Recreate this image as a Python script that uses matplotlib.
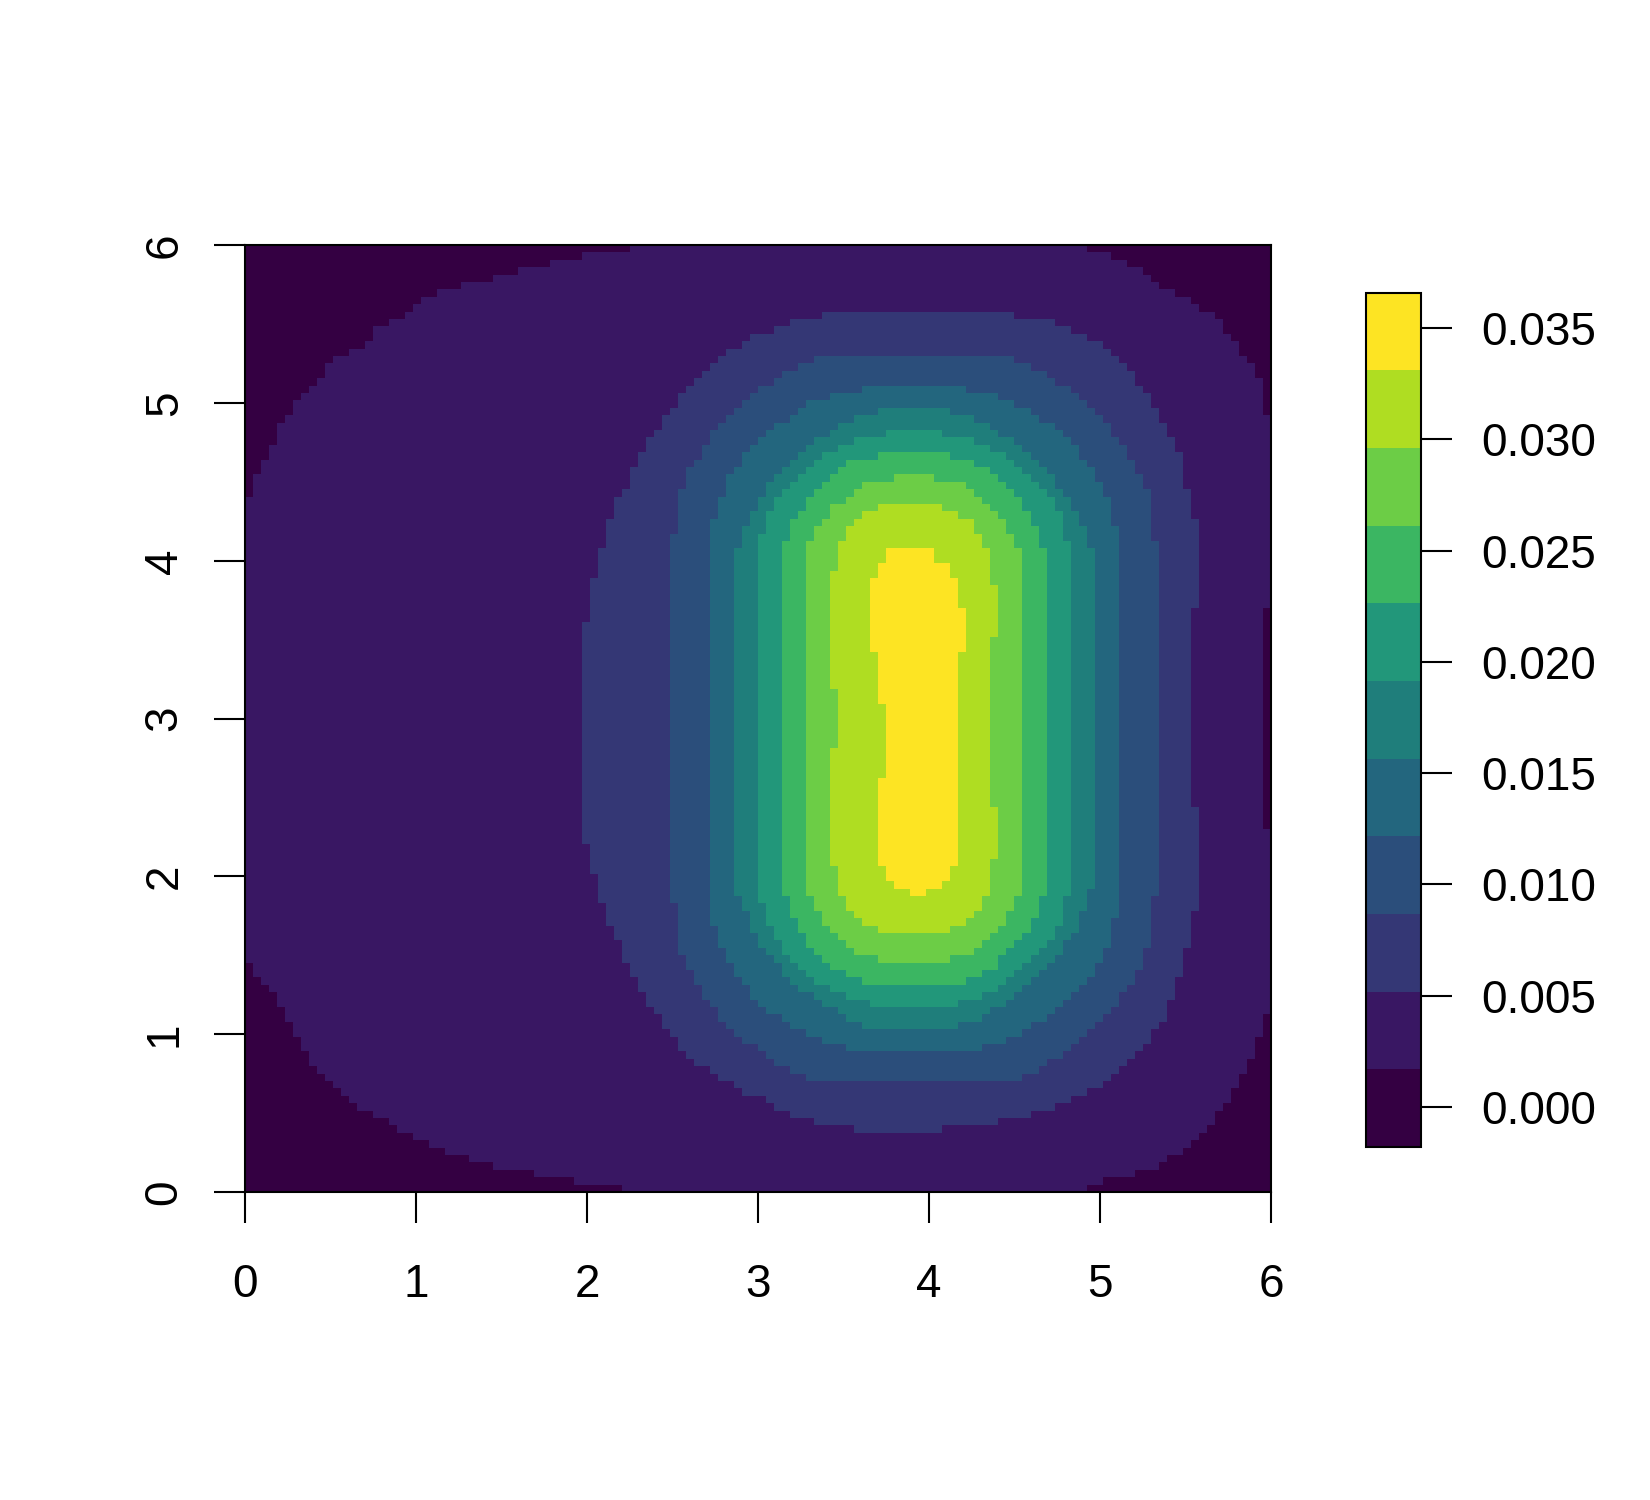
import numpy as np
import matplotlib
matplotlib.use('Agg')
import matplotlib.pyplot as plt
from matplotlib.path import Path
from matplotlib.colors import ListedColormap, BoundaryNorm

plt.rcParams['font.family'] = ['Liberation Sans', 'DejaVu Sans']

# raster grid and legend range
n_cells = 128
z_min, z_max = -0.0018, 0.0366
n_bands = 11
cbar_ticks = [0.000, 0.005, 0.010, 0.015, 0.020, 0.025, 0.030, 0.035]
axis_ticks = [0, 1, 2, 3, 4, 5, 6]
# viridis-like band colours as they appear in the picture
band_colors = ['#340042', '#391763', '#343775', '#2b4e7b', '#23667e', '#1f7e7b',
               '#22977a', '#3bb662', '#6ccd46', '#afdd22', '#fde423']

# outer edge of band 2 (everything but the four dark corners)
band2_outline = [
    (2.21, -0.1), (2.21, 0.03), (1.88, 0.08), (1.65, 0.12), (1.45, 0.17), (1.27, 0.22),
    (1.08, 0.31), (0.98, 0.36), (0.80, 0.46), (0.66, 0.55), (0.52, 0.65), (0.38, 0.84),
    (0.28, 1.02), (0.19, 1.21), (0.146, 1.30), (0.05, 1.40), (0.0, 1.53), (-0.1, 1.53),
    (-0.1, 4.35), (0.0, 4.35), (0.05, 4.49), (0.10, 4.63), (0.15, 4.72), (0.19, 4.82),
    (0.24, 4.91), (0.28, 4.97), (0.33, 5.05), (0.38, 5.10), (0.43, 5.16), (0.47, 5.20),
    (0.52, 5.29), (0.66, 5.34), (0.75, 5.43), (0.80, 5.50), (0.90, 5.53), (0.98, 5.58),
    (1.03, 5.64), (1.13, 5.69), (1.27, 5.74), (1.41, 5.78), (1.56, 5.83), (1.75, 5.88),
    (1.98, 5.93), (2.26, 5.97), (2.26, 6.1),
    (4.93, 6.1), (4.93, 5.97), (5.07, 5.92), (5.21, 5.87), (5.30, 5.78), (5.44, 5.69),
    (5.54, 5.65), (5.58, 5.61), (5.68, 5.53), (5.77, 5.43), (5.82, 5.34), (5.92, 5.19),
    (5.96, 5.05), (5.96, 4.92), (6.1, 4.92),
    (6.1, 3.69), (5.96, 3.69), (5.96, 2.30), (6.1, 2.30), (6.1, 1.12), (5.96, 1.12),
    (5.92, 0.92), (5.87, 0.84), (5.82, 0.73), (5.73, 0.55), (5.63, 0.42), (5.54, 0.31),
    (5.45, 0.23), (5.35, 0.18), (5.30, 0.14), (5.07, 0.09), (4.93, 0.04), (4.93, -0.1),
]

band3_outline = [
    (3.43, 5.57), (4.40, 5.57), (4.65, 5.53), (4.88, 5.45), (5.02, 5.36), (5.12, 5.26),
    (5.21, 5.17), (5.25, 5.07), (5.30, 5.01), (5.35, 4.91), (5.40, 4.82), (5.45, 4.72),
    (5.49, 4.55), (5.54, 4.30), (5.58, 4.20), (5.58, 3.69), (5.54, 3.69), (5.54, 2.43),
    (5.58, 2.43), (5.58, 1.80), (5.54, 1.75), (5.49, 1.45), (5.45, 1.30), (5.40, 1.16),
    (5.35, 1.07), (5.30, 0.97), (5.21, 0.88), (5.12, 0.79), (5.02, 0.69), (4.88, 0.60),
    (4.75, 0.55), (4.65, 0.50), (4.45, 0.46), (4.30, 0.42), (4.08, 0.42), (4.08, 0.36),
    (3.80, 0.36), (3.43, 0.42), (3.24, 0.46), (3.10, 0.54), (3.006, 0.60), (2.91, 0.64),
    (2.82, 0.69), (2.77, 0.73), (2.68, 0.79), (2.59, 0.86), (2.54, 0.92), (2.45, 1.07),
    (2.40, 1.15), (2.35, 1.20), (2.30, 1.30), (2.26, 1.39), (2.21, 1.49), (2.16, 1.63),
    (2.12, 1.72), (2.07, 1.86), (2.03, 2.06), (1.98, 2.28), (1.98, 3.56), (2.03, 3.84),
    (2.07, 4.03), (2.12, 4.22), (2.16, 4.35), (2.21, 4.45), (2.26, 4.53), (2.30, 4.68),
    (2.40, 4.82), (2.45, 4.91), (2.495, 4.96), (2.544, 5.06), (2.58, 5.10), (2.63, 5.15),
    (2.68, 5.20), (2.73, 5.24), (2.77, 5.28), (2.866, 5.34), (2.91, 5.38), (3.006, 5.43),
    (3.10, 5.47), (3.24, 5.53),
]

# bands 4..10 are close to symmetric round the peak: top-left quarter of each
peak_center = (3.91, 2.99)
band4_quarter = [(3.91, 5.29), (3.38, 5.29), (3.24, 5.24), (3.10, 5.15), (2.96, 5.05),
                 (2.866, 4.96), (2.77, 4.86), (2.68, 4.72), (2.63, 4.63), (2.58, 4.53),
                 (2.544, 4.44), (2.52, 4.25), (2.495, 4.07), (2.495, 2.99)]
band5_quarter = [(3.91, 5.10), (3.665, 5.10), (3.43, 5.05), (3.33, 5.01), (3.24, 4.96),
                 (3.19, 4.91), (3.10, 4.86), (3.05, 4.82), (3.006, 4.77), (2.96, 4.72),
                 (2.91, 4.63), (2.866, 4.59), (2.82, 4.49), (2.77, 4.39), (2.73, 4.22),
                 (2.70, 4.09), (2.70, 2.99)]
band6_quarter = [(3.91, 4.97), (3.80, 4.97), (3.57, 4.91), (3.43, 4.82), (3.285, 4.72),
                 (3.19, 4.63), (3.10, 4.53), (3.05, 4.45), (3.006, 4.39), (2.96, 4.30),
                 (2.91, 4.17), (2.866, 4.05), (2.866, 2.99)]
band7_quarter = [(3.91, 4.82), (3.80, 4.82), (3.57, 4.77), (3.43, 4.70), (3.33, 4.63),
                 (3.285, 4.58), (3.19, 4.49), (3.10, 4.39), (3.05, 4.26), (3.006, 4.09),
                 (3.006, 2.99)]
band8_quarter = [(3.91, 4.68), (3.80, 4.68), (3.57, 4.64), (3.43, 4.55), (3.38, 4.49),
                 (3.285, 4.39), (3.24, 4.30), (3.19, 4.22), (3.148, 4.07), (3.148, 2.99)]
band9_quarter = [(3.91, 4.53), (3.80, 4.53), (3.57, 4.47), (3.52, 4.40), (3.43, 4.33),
                 (3.38, 4.26), (3.33, 4.16), (3.285, 4.06), (3.285, 2.99)]
band10_quarter = [(3.91, 4.35), (3.75, 4.35), (3.57, 4.26), (3.52, 4.17), (3.47, 4.07),
                  (3.43, 3.82), (3.45, 2.99)]

band11_outline = [
    (3.75, 4.07), (4.04, 4.07), (4.04, 3.97), (4.13, 3.97), (4.13, 3.89), (4.18, 3.89),
    (4.18, 3.70), (4.22, 3.70), (4.22, 3.41), (4.17, 3.41), (4.17, 2.06), (4.12, 2.06),
    (4.12, 1.96), (4.08, 1.96), (4.08, 1.92), (3.99, 1.92), (3.99, 1.86), (3.90, 1.86),
    (3.90, 1.92), (3.80, 1.92), (3.80, 1.96), (3.75, 1.96), (3.75, 2.06), (3.71, 2.06),
    (3.71, 2.62), (3.75, 2.62), (3.75, 3.09), (3.71, 3.09), (3.71, 3.41), (3.665, 3.41),
    (3.665, 3.89), (3.70, 3.89), (3.70, 3.97), (3.75, 3.97),
]

# build the raster of band indices
centres = (np.arange(n_cells) + 0.5) * 6.0 / n_cells
gx, gy = np.meshgrid(centres, centres)
pts = np.column_stack([gx.ravel(), gy.ravel()])
cx, cy = peak_center
refl = np.column_stack([cx - np.abs(pts[:, 0] - cx), cy + np.abs(pts[:, 1] - cy)])

level = np.zeros(len(pts), dtype=int)
level = np.maximum(level, 1 * Path(band2_outline).contains_points(pts))
level = np.maximum(level, 2 * Path(band3_outline).contains_points(pts))
quarters = [band4_quarter, band5_quarter, band6_quarter, band7_quarter,
            band8_quarter, band9_quarter, band10_quarter]
for k, q in enumerate(quarters):
    inside = Path(q + [peak_center]).contains_points(refl)
    level = np.maximum(level, (k + 3) * inside)
level = np.maximum(level, 10 * Path(band11_outline).contains_points(pts))

breaks = np.linspace(z_min, z_max, n_bands + 1)
step = breaks[1] - breaks[0]
z = (breaks[level] + step / 2).reshape(n_cells, n_cells)

cmap = ListedColormap(band_colors)
norm = BoundaryNorm(breaks, n_bands)

fig = plt.figure(figsize=(11, 10), dpi=150)
ax = fig.add_axes([0.1485, 0.2053, 0.6218, 0.6313])
im = ax.imshow(z, origin='lower', extent=(0, 6, 0, 6), cmap=cmap, norm=norm,
               interpolation='nearest', aspect='auto')
ax.set_xlim(0, 6)
ax.set_ylim(0, 6)
ax.set_xticks(axis_ticks)
ax.set_yticks(axis_ticks)
ax.set_yticklabels([str(t) for t in axis_ticks], rotation=90, va='center')
ax.tick_params(axis='x', length=15, width=1, pad=19, labelsize=22)
ax.tick_params(axis='y', length=15, width=1, pad=13, labelsize=22)
for s in ax.spines.values():
    s.set_linewidth(1)

cax = fig.add_axes([0.8279, 0.2353, 0.0333, 0.5697])
cb = fig.colorbar(im, cax=cax, ticks=cbar_ticks)
cb.ax.minorticks_off()
cb.ax.set_yticklabels(['%.3f' % t for t in cbar_ticks])
cb.ax.tick_params(length=15, width=1, pad=14, labelsize=22)
cb.outline.set_linewidth(1)

fig.savefig('out.png', dpi=150)
